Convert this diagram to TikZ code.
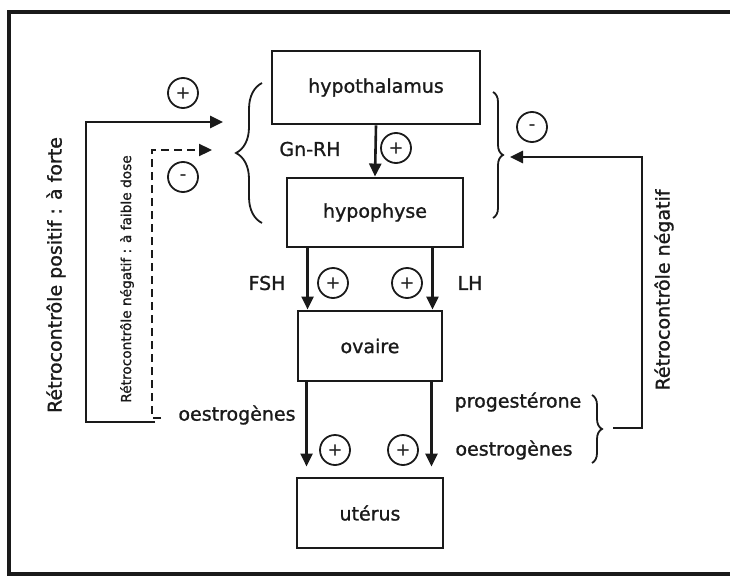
\documentclass[tikz,border=0pt]{standalone}
\usepackage{fontspec}
\setmainfont{DejaVu Sans}[FakeBold=1.2]
\definecolor{hgink}{HTML}{1A1A1A}
\usetikzlibrary{arrows.meta,decorations.pathreplacing}

\begin{document}
\begin{tikzpicture}[
      x=1pt, y=-1pt,
      font=\fontsize{19}{23}\selectfont,
      organ/.style={draw=hgink, line width=2.9pt, inner sep=0pt, text=hgink},
      lbl/.style={inner sep=0pt, text=hgink},
      sgn/.style={circle, draw=hgink, line width=1.8pt, minimum size=30pt,
                  inner sep=0pt, text=hgink, font=\fontsize{17}{17}\selectfont},
      fl/.style={-{Triangle[length=13pt,width=12pt]}, draw=hgink, line width=2.6pt},
      fb/.style={-{Triangle[length=13pt,width=12pt]}, draw=hgink, line width=2.6pt},
      brc/.style={decorate, decoration={brace, amplitude=#1}, draw=hgink,
                  line width=1.8pt},
    ]
    \useasboundingbox (0,0) rectangle (730,578);
    \draw[hgink, line width=3.2pt] (730,12) -- (9,12) -- (9,574) -- (730,574);

    \node[organ, minimum width=208pt, minimum height=73pt] (hypoth) at (376,87.5) {hypothalamus};
    \node[organ, minimum width=176pt, minimum height=69pt] (hypoph) at (375,212.5) {hypophyse};
    \node[organ, minimum width=144pt, minimum height=70pt] (ovaire) at (370,346) {ovaire};
    \node[organ, minimum width=146pt, minimum height=70pt] (uterus) at (370,513) {utérus};

    \node[lbl] (gnrh)    at (310,149) {Gn-RH};
    \node[lbl] (fsh)     at (267,283) {FSH};
    \node[lbl] (lh)      at (470,283) {LH};
    \node[lbl] (oestroL) at (237,415) {oestrogènes};
    \node[lbl] (proges)  at (518,402) {progestérone};
    \node[lbl] (oestroR) at (514,450) {oestrogènes};

    \draw[fl] (hypoth.south) -- (hypoph.north);
    \draw[fl] ([xshift=22pt]hypoph.south west) -- ([xshift=22pt]hypoph.south west |- ovaire.north);
    \draw[fl] ([xshift=-32pt]hypoph.south east) -- ([xshift=-32pt]hypoph.south east |- ovaire.north);
    \draw[fl, shorten >=10pt] ([xshift=10pt]ovaire.south west) -- ([xshift=10pt]ovaire.south west |- uterus.north);
    \draw[fl, shorten >=10pt] ([xshift=-12pt]ovaire.south east) -- ([xshift=-12pt]ovaire.south east |- uterus.north);

    \node[sgn] (sGn)  at (396,148) {+};
    \node[sgn] (sFsh) at (333,283) {+};
    \node[sgn] (sLh)  at (407,283) {+};
    \node[sgn] (sUtL) at (335,450) {+};
    \node[sgn] (sUtR) at (403,450) {+};
    \node[sgn] (sPos) at (183,93)  {+};
    \node[sgn] (sLow) at (183,177) {-};
    \node[sgn] (sNeg) at (532,127) {-};

    % retrocontroles
    \coordinate (posStart)  at (155,422);
    \coordinate (posEnd)    at (223,122);
    \coordinate (dashStart) at (161,418);
    \coordinate (dashEnd)   at (212,150);
    \coordinate (negStart)  at (613,428);
    \coordinate (negEnd)    at (510,157);
    \draw[fb] (posStart) -- ++(-69,0) |- (posEnd);
    \draw[fb, line width=2.3pt, dash pattern=on 8pt off 5pt] (dashStart) -- ++(-9,0) |- (dashEnd);
    \draw[fb] (negStart) -- ++(29,0) |- (negEnd);

    \node[lbl, rotate=90] (posTxt) at (56,275) {Rétrocontrôle positif : à forte};
    \node[lbl, rotate=90, font=\fontsize{13.7}{16}\selectfont] (lowTxt) at (127,279)
      {Rétrocontrôle négatif : à faible dose};
    \node[lbl, rotate=90] (negTxt) at (664,290) {Rétrocontrôle négatif};

    \draw[brc=26pt] (262,223) -- (262,83);
    \draw[brc=10pt] (493,92) -- (493,218);
    \draw[brc=10pt] (592,395) -- (592,463);

  \end{tikzpicture}
\end{document}
